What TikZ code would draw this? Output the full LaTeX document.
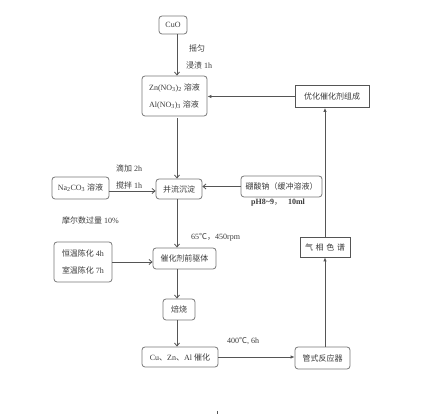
\documentclass[tikz,border=0pt]{standalone}
\usepackage{fontspec}
\setmainfont{Liberation Serif}
\newfontfamily\cjk{Noto Sans CJK SC}
\usetikzlibrary{arrows.meta}
\newcommand{\zh}[1]{{\cjk #1}}
\definecolor{boxgray}{HTML}{777777}
\definecolor{sharpgray}{HTML}{555555}
\definecolor{txt}{HTML}{3A3A3A}
\definecolor{linegray}{HTML}{555555}
\begin{document}
\begin{tikzpicture}[x=1pt,y=-1pt,
  every node/.style={text=txt, font=\fontsize{8}{9.6}\selectfont},
  rbox/.style={draw=boxgray, line width=0.8pt, rounded corners=3pt, inner sep=0pt},
  sbox/.style={draw=sharpgray, line width=0.8pt, inner sep=0pt},
  lbl/.style={anchor=west, inner sep=0pt},
  openarr/.style={draw=linegray, line width=0.8pt, -{Straight Barb[length=3pt,width=5pt]}},
  fillarr/.style={draw=linegray, line width=0.8pt, -{Latex[length=4pt,width=3.5pt]}}]
\useasboundingbox (0,0) rectangle (432,414);

% boxes
\node[rbox, minimum width=28pt, minimum height=18pt] (cuo) at (173,25) {CuO};
\node[rbox, minimum width=65pt, minimum height=40pt, align=left,
  font=\fontsize{8}{17}\selectfont] (zn) at (174.5,96)
  {Zn(NO\textsubscript{3})\textsubscript{2} \zh{溶液}\\Al(NO\textsubscript{3})\textsubscript{3} \zh{溶液}};
\node[sbox, minimum width=74pt, minimum height=22pt] (opt) at (332,96.5) {\zh{优化催化剂组成}};
\node[rbox, minimum width=46pt, minimum height=20pt] (bl) at (179,189) {\zh{并流沉淀}};
\node[rbox, minimum width=57pt, minimum height=22pt] (na) at (80.5,188) {Na\textsubscript{2}CO\textsubscript{3} \zh{溶液}};
\node[rbox, minimum width=81pt, minimum height=21pt] (bor) at (281.5,186.5) {\zh{硼酸钠（缓冲溶液）}};
\node[rbox, minimum width=63pt, minimum height=21pt] (pre) at (184.5,258.5) {\zh{催化剂前驱体}};
\node[rbox, minimum width=58pt, minimum height=40pt, align=left,
  font=\fontsize{8}{17}\selectfont] (age) at (83,262)
  {\zh{恒温陈化} 4h\\\zh{室温陈化} 7h};
\node[rbox, minimum width=32pt, minimum height=21pt] (calc) at (179,309.5) {\zh{焙烧}};
\node[rbox, minimum width=76pt, minimum height=20pt] (cu) at (180,357) {Cu\zh{、}Zn\zh{、}Al \zh{催化}};
\node[rbox, minimum width=55pt, minimum height=22pt] (tube) at (322.5,358) {\zh{管式反应器}};
\node[sbox, minimum width=50pt, minimum height=20pt] (gc) at (325,247) {\zh{气\,\,相\,\,色\,\,谱}};

% spines
\coordinate (sp) at (177,0);
\coordinate (rs) at (325,0);

% labels
\node[lbl] (l1) at (189,48) {\zh{摇匀}};
\node[lbl] (l2) at (186,65) {\zh{浸渍} 1h};
\node[lbl] (l3) at (116,168) {\zh{滴加} 2h};
\node[lbl] (l4) at (116,185) {\zh{搅拌} 1h};
\node[lbl] (l5) at (251,203) {\textbf{pH8\textasciitilde9}\zh{，}\hspace{6pt}\textbf{10ml}};
\node[lbl] (l6) at (62,220) {\zh{摩尔数过量} 10\%};
\node[lbl] (l7) at (191,237) {65\zh{℃，}450rpm};
\node[lbl] (l8) at (227,341) {400\zh{℃}, 6h};

% connectors
\draw[openarr] (sp |- cuo.south) -- (sp |- zn.north);
\draw[fillarr] (opt.west) -- (opt.west -| zn.east);
\draw[openarr] ([yshift=-2pt]sp |- zn.south) -- (sp |- bl.north);
\draw[openarr] ([yshift=-3pt]na.east) -- ([yshift=-3pt]na.east -| bl.west);
\draw[openarr] (bor.west) -- (bor.west -| bl.east);
\draw[openarr] (sp |- bl.south) -- (sp |- pre.north);
\draw[openarr] (age.east) -- (age.east -| pre.west);
\draw[openarr] (sp |- pre.south) -- (sp |- calc.north);
\draw[openarr] (sp |- calc.south) -- (sp |- cu.north);
\draw[fillarr] (cu.east) -- (cu.east -| tube.west);
\draw[fillarr] (rs |- tube.north) -- (rs |- gc.south);
\draw[fillarr] (rs |- gc.north) -- (rs |- opt.south);

% small tick at bottom
\coordinate (tk) at (217,411);
\draw[linegray, line width=0.6pt] (tk) -- ++(0,3);
\end{tikzpicture}
\end{document}
